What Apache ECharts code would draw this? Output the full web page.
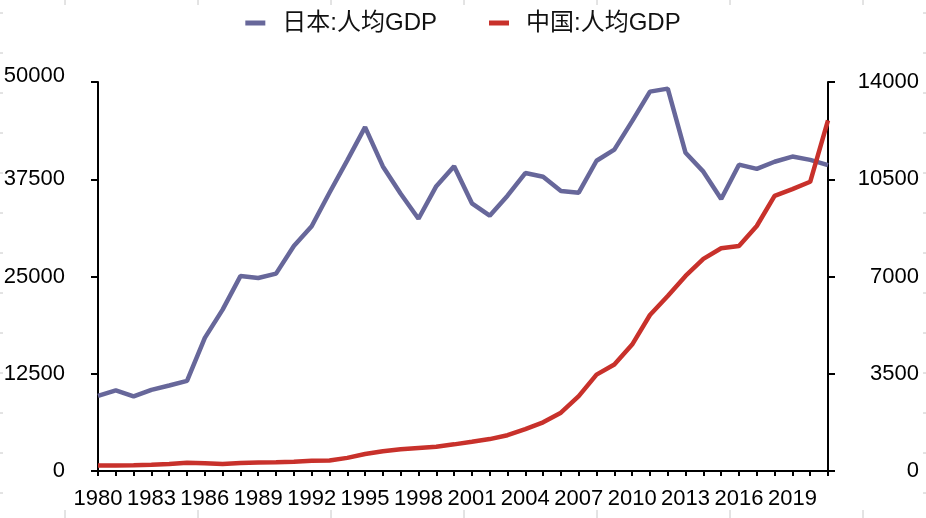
<!DOCTYPE html>
<html>
<head>
<meta charset="utf-8">
<script src="https://cdn.jsdelivr.net/npm/echarts@6/dist/echarts.min.js"></script>
<style>html,body{margin:0;padding:0;background:#fff}#c{width:926px;height:518px}</style>
</head>
<body>
<div id="c"></div>
<script>
const years = ['1980','1981','1982','1983','1984','1985','1986','1987','1988','1989','1990','1991','1992','1993','1994','1995','1996','1997','1998','1999','2000','2001','2002','2003','2004','2005','2006','2007','2008','2009','2010','2011','2012','2013','2014','2015','2016','2017','2018','2019','2020','2021'];
const japanGDP = [9659,10361,9578,10425,10984,11585,17112,20745,25052,24813,25371,28925,31465,35766,39934,44198,39150,35636,32423,36611,39169,34406,32821,35387,38299,37813,35991,35779,39876,41309,44968,48760,49145,40898,38475,34961,39375,38834,39751,40416,39987,39313];
const chinaGDP = [195,197,203,225,251,294,282,252,284,310,318,333,366,377,473,610,709,782,829,873,959,1053,1149,1289,1509,1753,2099,2694,3468,3832,4550,5614,6301,7020,7636,8016,8094,8817,9905,10144,10409,12618];
const seriesNames = ['日本:人均GDP','中国:人均GDP'];
const leftTicks = {min:0, max:50000, interval:12500};
const rightTicks = {min:0, max:14000, interval:3500};

const FONT = '"Liberation Sans", Arial, Helvetica, "Noto Sans CJK SC", sans-serif';
const chart = echarts.init(document.getElementById('c'));

const graphics = [];
const gcol = '#c8c8c8';
for (let k = 0; k < 7; k++) {
  const x = 65 + 133 * k;
  graphics.push({type:'line', shape:{x1:x,y1:0,x2:x,y2:5}, style:{stroke:gcol,lineWidth:1}, silent:true});
  graphics.push({type:'line', shape:{x1:x,y1:510,x2:x,y2:518}, style:{stroke:gcol,lineWidth:1}, silent:true});
}
for (let k = 0; k < 13; k++) {
  const y = 13 + 40 * k;
  graphics.push({type:'line', shape:{x1:0,y1:y,x2:3,y2:y}, style:{stroke:gcol,lineWidth:1}, silent:true});
  graphics.push({type:'line', shape:{x1:923,y1:y,x2:926,y2:y}, style:{stroke:gcol,lineWidth:1}, silent:true});
}

const plain = v => String(v);
const leftFmt = v => v === leftTicks.max ? '{t|' + v + '}' : String(v);

chart.setOption({
  animation: false,
  backgroundColor: '#fff',
  graphic: graphics,
  legend: {
    top: 6, left: 'center',
    icon: 'rect', itemWidth: 20, itemHeight: 5, itemGap: 52,
    data: seriesNames,
    formatter: '{p|{name}}',
    textStyle: {
      color: '#111', fontSize: 24, fontFamily: FONT,
      rich: {p: {padding: [0,0,0,12], fontSize: 24, color: '#111', fontFamily: FONT}}
    }
  },
  grid: {left: 98, right: 98, top: 82, bottom: 47, containLabel: false},
  xAxis: {
    type: 'category', boundaryGap: false, data: years,
    axisLine: {lineStyle: {color: '#000', width: 2}},
    axisTick: {show: true, interval: 0, length: 5, lineStyle: {color: '#000', width: 2}},
    axisLabel: {interval: 2, color: '#000', fontSize: 22, fontFamily: FONT, margin: 17}
  },
  yAxis: [
    {
      type: 'value', position: 'left', min: leftTicks.min, max: leftTicks.max, interval: leftTicks.interval,
      axisLine: {show: true, lineStyle: {color: '#000', width: 2}},
      axisTick: {show: true, length: 7, lineStyle: {color: '#000', width: 2}},
      splitLine: {show: false},
      axisLabel: {color: '#000', fontSize: 22, fontFamily: FONT, margin: 33, formatter: leftFmt,
        rich: {t: {padding: [0,0,12,0], fontSize: 22, color: '#000', fontFamily: FONT}}}
    },
    {
      type: 'value', position: 'right', min: rightTicks.min, max: rightTicks.max, interval: rightTicks.interval,
      axisLine: {show: true, lineStyle: {color: '#000', width: 2}},
      axisTick: {show: true, length: 7, lineStyle: {color: '#000', width: 2}},
      splitLine: {show: false},
      axisLabel: {color: '#000', fontSize: 22, fontFamily: FONT, margin: 91, align: 'right', formatter: plain}
    }
  ],
  series: [
    {
      name: seriesNames[0], type: 'line', yAxisIndex: 0, data: japanGDP,
      symbol: 'none', smooth: false,
      itemStyle: {color: '#67679a'},
      lineStyle: {color: '#67679a', width: 4.5}
    },
    {
      name: seriesNames[1], type: 'line', yAxisIndex: 1, data: chinaGDP,
      symbol: 'none', smooth: false,
      itemStyle: {color: '#c8312b'},
      lineStyle: {color: '#c8312b', width: 4.5}
    }
  ]
});
</script>
</body>
</html>
